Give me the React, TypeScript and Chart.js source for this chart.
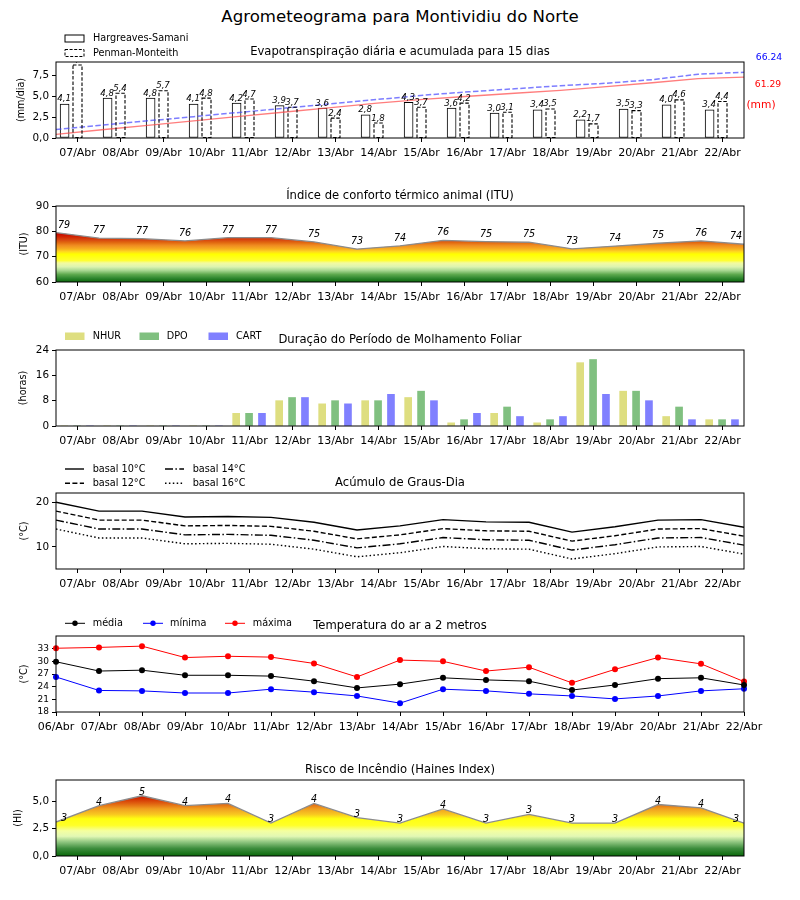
import React, { useEffect, useRef } from 'react';
import { Chart, registerables } from 'chart.js';

Chart.register(...registerables);

const FONT = "'DejaVu Sans', 'Liberation Sans', sans-serif";
Chart.defaults.font.family = FONT;

// ---------------- data ----------------
const mainTitle = 'Agrometeograma para Montividiu do Norte';
const days = ['07/Abr', '08/Abr', '09/Abr', '10/Abr', '11/Abr', '12/Abr', '13/Abr', '14/Abr', '15/Abr', '16/Abr', '17/Abr', '18/Abr', '19/Abr', '20/Abr', '21/Abr', '22/Abr'];
const tempDays = ['06/Abr', '07/Abr', '08/Abr', '09/Abr', '10/Abr', '11/Abr', '12/Abr', '13/Abr', '14/Abr', '15/Abr', '16/Abr', '17/Abr', '18/Abr', '19/Abr', '20/Abr', '21/Abr', '22/Abr'];

// Panel 1 - evapotranspiration
const etTitle = 'Evapotranspiração diária e acumulada para 15 dias';
const etSeries = ['Hargreaves-Samani', 'Penman-Monteith'];
const etHargreaves = [4.1, 4.8, 4.8, 4.1, 4.2, 3.9, 3.6, 2.8, 4.3, 3.6, 3.0, 3.4, 2.2, 3.5, 4.0, 3.4];
const etPenman = [8.8, 5.4, 5.7, 4.8, 4.7, 3.7, 2.4, 1.8, 3.7, 4.2, 3.1, 3.5, 1.7, 3.3, 4.6, 4.4];
const etCumPenman = [8.6, 13.0, 17.3, 21.5, 25.8, 30.2, 34.6, 38.8, 43.1, 46.6, 49.6, 52.7, 55.2, 58.8, 64.3, 66.24];
const etCumHargreaves = [3.7, 8.3, 12.8, 17.2, 21.7, 26.2, 30.7, 35.2, 39.0, 42.1, 45.1, 48.1, 51.7, 55.7, 59.8, 61.29];
const etTotalLabels = ['66.24', '61.29', '(mm)'];
const etYTicks = [0, 2.5, 5, 7.5];
const etYTickLabels = ['0,0', '2,5', '5,0', '7,5'];
const etYMax = 9.16;
const etCumMax = 76.6;
const etYTitle = '(mm/dia)';

// Panel 2 - ITU
const ituTitle = 'Índice de conforto térmico animal (ITU)';
const ituValues = [79.5, 77.3, 77.1, 76.2, 77.5, 77.5, 75.8, 73.0, 74.3, 76.4, 75.9, 75.7, 73.1, 74.2, 75.3, 76.2, 74.9];
const ituYTicks = [60, 70, 80, 90];
const ituYTickLabels = ['60', '70', '80', '90'];
const ituYTitle = '(ITU)';

// Panel 3 - leaf wetness
const lwTitle = 'Duração do Período de Molhamento Foliar';
const lwSeries = ['NHUR', 'DPO', 'CART'];
const lwNhur = [0, 0, 0, 0, 4, 8, 7, 8, 9, 1, 4, 1, 20, 11, 3, 2];
const lwDpo = [0, 0, 0, 0, 4, 9, 8, 8, 11, 2, 6, 2, 21, 11, 6, 2];
const lwCart = [0, 0, 0, 0, 4, 9, 7, 10, 8, 4, 3, 3, 10, 8, 2, 2];
const lwYTicks = [0, 8, 16, 24];
const lwYTickLabels = ['0', '8', '16', '24'];
const lwYTitle = '(horas)';

// Panel 4 - degree days
const gdTitle = 'Acúmulo de Graus-Dia';
const gdSeries = ['basal 10°C', 'basal 12°C', 'basal 14°C', 'basal 16°C'];
const gdBase10 = [20.0, 18.0, 18.0, 16.7, 16.8, 16.6, 15.5, 13.8, 14.7, 16.1, 15.6, 15.5, 13.3, 14.5, 16.0, 16.1, 14.4];
const gdBase12 = [18.0, 16.0, 16.0, 14.7, 14.8, 14.6, 13.5, 11.8, 12.7, 14.1, 13.6, 13.5, 11.3, 12.5, 14.0, 14.1, 12.4];
const gdBase14 = [16.0, 14.0, 14.0, 12.7, 12.8, 12.6, 11.5, 9.8, 10.7, 12.1, 11.6, 11.5, 9.3, 10.5, 12.0, 12.1, 10.4];
const gdBase16 = [14.0, 12.0, 12.0, 10.7, 10.8, 10.6, 9.5, 7.8, 8.7, 10.1, 9.6, 9.5, 7.3, 8.5, 10.0, 10.1, 8.4];
const gdYTicks = [10, 20];
const gdYTickLabels = ['10', '20'];
const gdYTitle = '(°C)';

// Panel 5 - air temperature
const tTitle = 'Temperatura do ar a 2 metros';
const tSeries = ['média', 'mínima', 'máxima'];
const tMean = [29.9, 27.7, 27.9, 26.7, 26.7, 26.5, 25.3, 23.7, 24.6, 26.1, 25.6, 25.3, 23.2, 24.4, 25.9, 26.1, 24.4];
const tMin = [26.3, 23.1, 23.0, 22.5, 22.5, 23.4, 22.7, 21.8, 20.1, 23.4, 23.0, 22.3, 21.8, 21.1, 21.8, 23.0, 23.5];
const tMax = [33.1, 33.3, 33.6, 30.9, 31.2, 31.0, 29.5, 26.3, 30.3, 30.0, 27.7, 28.6, 24.9, 28.1, 30.9, 29.4, 25.2];
const tYTicks = [18, 21, 24, 27, 30, 33];
const tYTickLabels = ['18', '21', '24', '27', '30', '33'];
const tYTitle = '(°C)';

// Panel 6 - Haines index
const hiTitle = 'Risco de Incêndio (Haines Index)';
const hiValues = [3.1, 4.6, 5.5, 4.6, 4.8, 3.0, 4.8, 3.5, 3.0, 4.3, 3.0, 3.8, 3.0, 3.0, 4.7, 4.4, 3.0];
const hiYTicks = [0, 2.5, 5];
const hiYTickLabels = ['0,0', '2,5', '5,0'];
const hiYTitle = '(HI)';

// colour ramps (value -> colour)
type Stop = [number, string];
const ituStops: Stop[] = [
  [60, '#0b680b'], [61.5, '#2f872f'], [63, '#5ea94e'], [64.5, '#a6d690'], [66, '#dcf4b0'],
  [67.5, '#f3fba0'], [68.5, '#ffff30'], [71, '#ffff00'], [72, '#ffd820'], [73, '#f8b020'],
  [74.5, '#ef8a20'], [75.5, '#e26a10'], [76.5, '#d84a10'], [78, '#d02000'], [79.5, '#bf0000'],
];
const hiStops: Stop[] = [
  [0, '#0a680a'], [0.7, '#3e8e3e'], [1.3, '#92c882'], [1.8, '#e2f8b4'], [2.3, '#f4ffa0'],
  [2.8, '#ffff28'], [3.4, '#ffff10'], [3.8, '#f8c820'], [4.3, '#f0a020'], [4.8, '#e06010'],
  [5.3, '#d02800'], [5.7, '#c00000'],
];

// ---------------- layout constants ----------------
const AREA_TOPS = [62, 206, 350, 493, 636, 780];
const AREA_H = 76;
const PAD_TOP = 36;
const PAD_BOTTOM = 26;
const CANVAS_H = PAD_TOP + AREA_H + PAD_BOTTOM;
const AREA_LEFT = 56;
const AREA_RIGHT = 744;
const TITLE_SIZE = 11.6;
const YTITLE_SIZE = 9.6;
const LEGEND_SIZE = 9.7;
const XTICK_SIZE = 11;
const YTICK_SIZE = 10.4;

function baseOptions(xTicks: number[], xLabels: string[], yMin: number, yMax: number, yTicks: number[], yLabels: string[], yTickSize = YTICK_SIZE): any {
  const grid = { display: true, drawOnChartArea: false, drawTicks: true, tickLength: 4, tickColor: '#000', tickWidth: 1, offset: false };
  return {
    animation: false,
    responsive: false,
    maintainAspectRatio: false,
    events: [],
    layout: { padding: { top: PAD_TOP, left: 0, right: 800 - AREA_RIGHT, bottom: 0 } },
    plugins: { legend: { display: false }, tooltip: { enabled: false }, title: { display: false } },
    scales: {
      x: {
        type: 'linear', min: 0, max: 16, offset: false,
        afterFit: (s: any) => { s.height = PAD_BOTTOM; },
        afterBuildTicks: (s: any) => { s.ticks = xTicks.map((v) => ({ value: v })); },
        ticks: {
          autoSkip: false, maxRotation: 0, minRotation: 0, color: '#000', padding: 5,
          font: { family: FONT, size: XTICK_SIZE },
          callback: (_v: any, i: number) => xLabels[i],
        },
        grid, border: { display: false },
      },
      y: {
        type: 'linear', position: 'left', min: yMin, max: yMax,
        afterFit: (s: any) => { s.width = AREA_LEFT; },
        afterBuildTicks: (s: any) => { s.ticks = yTicks.map((v) => ({ value: v })); },
        ticks: {
          autoSkip: false, color: '#000', padding: 3, font: { family: FONT, size: yTickSize },
          callback: (_v: any, i: number) => yLabels[i],
        },
        grid, border: { display: false },
      },
    },
  };
}

function decorPlugin(panel: number, title: string, yTitle: string, yTitleX: number, extra?: (ctx: CanvasRenderingContext2D) => void) {
  const canvasTop = AREA_TOPS[panel] - PAD_TOP;
  return {
    id: 'decor' + panel,
    afterDraw(chart: any) {
      const ctx: CanvasRenderingContext2D = chart.ctx;
      const a = chart.chartArea;
      ctx.save();
      ctx.setLineDash([]);
      ctx.strokeStyle = '#000';
      ctx.lineWidth = 1;
      ctx.strokeRect(a.left, a.top, a.right - a.left, a.bottom - a.top);
      ctx.fillStyle = '#000';
      ctx.font = `${TITLE_SIZE}px ${FONT}`;
      ctx.textAlign = 'center';
      ctx.textBaseline = 'alphabetic';
      ctx.fillText(title, (a.left + a.right) / 2, a.top - 7);
      ctx.save();
      ctx.translate(yTitleX, (a.top + a.bottom) / 2);
      ctx.rotate(-Math.PI / 2);
      ctx.font = `${YTITLE_SIZE}px ${FONT}`;
      ctx.textBaseline = 'middle';
      ctx.fillText(yTitle, 0, 0);
      ctx.restore();
      if (extra) {
        ctx.save();
        ctx.translate(0, -canvasTop);
        extra(ctx);
        ctx.restore();
      }
      ctx.restore();
    },
  };
}

function legendText(ctx: CanvasRenderingContext2D, t: string, x: number, y: number, color = '#000', size = LEGEND_SIZE, align: CanvasTextAlign = 'left') {
  ctx.save();
  ctx.fillStyle = color;
  ctx.font = `${size}px ${FONT}`;
  ctx.textAlign = align;
  ctx.textBaseline = 'middle';
  ctx.fillText(t, x, y);
  ctx.restore();
}

function gradientFill(stops: Stop[]) {
  return (c: any) => {
    const chart = c.chart;
    if (!chart.chartArea) return 'rgba(0,0,0,0)';
    const ys = chart.scales.y;
    const v0 = stops[0][0];
    const v1 = stops[stops.length - 1][0];
    const g = chart.ctx.createLinearGradient(0, ys.getPixelForValue(v0), 0, ys.getPixelForValue(v1));
    stops.forEach(([v, col]) => g.addColorStop((v - v0) / (v1 - v0), col));
    return g;
  };
}

function valueLabels(values: number[], size: number, gap: number) {
  return {
    id: 'vlabels',
    afterDatasetsDraw(chart: any) {
      const ctx: CanvasRenderingContext2D = chart.ctx;
      const a = chart.chartArea;
      const meta = chart.getDatasetMeta(0);
      ctx.save();
      ctx.beginPath();
      ctx.rect(a.left, a.top, a.right - a.left, a.bottom - a.top);
      ctx.clip();
      ctx.font = `italic ${size}px ${FONT}`;
      ctx.fillStyle = '#000';
      ctx.textAlign = 'center';
      ctx.textBaseline = 'alphabetic';
      meta.data.forEach((pt: any, i: number) => {
        let x = pt.x;
        if (i === 0) x += 8;
        if (i === values.length - 1) x -= 8;
        ctx.fillText(String(Math.floor(values[i])), x, pt.y - gap);
      });
      ctx.restore();
    },
  };
}

const dayTicks = days.map((_, i) => i + 0.5);
const tempTicks = tempDays.map((_, i) => i);

// ---------------- chart builders ----------------
function buildEt(canvas: HTMLCanvasElement) {
  const opts = baseOptions(dayTicks, days, 0, etYMax, etYTicks, etYTickLabels);
  opts.scales.y2 = { type: 'linear', display: false, min: 0, max: etCumMax };
  const barLabels = {
    id: 'barLabels',
    afterDatasetsDraw(chart: any) {
      const ctx: CanvasRenderingContext2D = chart.ctx;
      const a = chart.chartArea;
      ctx.save();
      ctx.beginPath();
      ctx.rect(a.left, a.top, a.right - a.left, a.bottom - a.top);
      ctx.clip();
      ctx.strokeStyle = '#000';
      ctx.lineWidth = 1.1;
      ctx.setLineDash([3.5, 1.8]);
      chart.getDatasetMeta(3).data.forEach((b: any) => {
        const p = b.getProps(['x', 'y', 'base', 'width'], true);
        ctx.strokeRect(p.x - p.width / 2, p.y, p.width, p.base - p.y);
      });
      ctx.setLineDash([]);
      ctx.font = `italic 8.6px ${FONT}`;
      ctx.fillStyle = '#000';
      ctx.textAlign = 'center';
      ctx.textBaseline = 'alphabetic';
      [2, 3].forEach((di) => {
        const vals = di === 2 ? etHargreaves : etPenman;
        chart.getDatasetMeta(di).data.forEach((b: any, i: number) => {
          const p = b.getProps(['x', 'y'], true);
          ctx.fillText(vals[i].toFixed(1).replace('.', ','), p.x - 0.5, p.y - 2.5);
        });
      });
      ctx.restore();
    },
  };
  const decor = decorPlugin(0, etTitle, etYTitle, 21, (ctx) => {
    ctx.strokeStyle = '#000';
    ctx.lineWidth = 1;
    ctx.fillStyle = '#fff';
    ctx.fillRect(65, 35, 19, 7);
    ctx.strokeRect(65, 35, 19, 7);
    ctx.setLineDash([3, 1.6]);
    ctx.fillRect(65, 49.5, 19, 7);
    ctx.strokeRect(65, 49.5, 19, 7);
    ctx.setLineDash([]);
    legendText(ctx, etSeries[0], 93, 38.7);
    legendText(ctx, etSeries[1], 93, 53.2);
    legendText(ctx, etTotalLabels[0], 769, 57.5, '#0000ff', 9.2, 'center');
    legendText(ctx, etTotalLabels[1], 768, 84.7, '#ff0000', 9.2, 'center');
    legendText(ctx, etTotalLabels[2], 761, 105.3, '#ff0000', 10.7, 'center');
  });
  return new Chart(canvas, {
    type: 'bar',
    data: {
      datasets: [
        { type: 'line', label: 'acum PM', data: etCumPenman.map((v, i) => ({ x: (i * 16) / 15, y: v })), yAxisID: 'y2', borderColor: 'rgba(70,70,255,0.7)', borderWidth: 1.5, borderDash: [5.5, 2.4], pointRadius: 0 },
        { type: 'line', label: 'acum HS', data: etCumHargreaves.map((v, i) => ({ x: (i * 16) / 15, y: v })), yAxisID: 'y2', borderColor: 'rgba(255,70,70,0.7)', borderWidth: 1.3, pointRadius: 0 },
        { type: 'bar', label: etSeries[0], data: etHargreaves.map((v, i) => ({ x: i + 0.2, y: v })), backgroundColor: '#fff', borderColor: '#000', borderWidth: 1, borderSkipped: false, barThickness: 9, grouped: false },
        { type: 'bar', label: etSeries[1], data: etPenman.map((v, i) => ({ x: i + 0.5, y: v })), backgroundColor: '#fff', borderWidth: 0, barThickness: 9, grouped: false },
      ],
    } as any,
    options: opts,
    plugins: [decor, barLabels],
  });
}

function buildItu(canvas: HTMLCanvasElement) {
  const opts = baseOptions(dayTicks, days, 60, 90, ituYTicks, ituYTickLabels);
  return new Chart(canvas, {
    type: 'line',
    data: {
      datasets: [{
        label: 'ITU', data: ituValues.map((v, i) => ({ x: i, y: v })), fill: 'start',
        backgroundColor: gradientFill(ituStops), borderColor: '#8c8c8c', borderWidth: 1.3, pointRadius: 0,
      }],
    } as any,
    options: opts,
    plugins: [decorPlugin(1, ituTitle, ituYTitle, 24), valueLabels(ituValues, 9.6, 5)],
  });
}

function buildLw(canvas: HTMLCanvasElement) {
  const opts = baseOptions(dayTicks, days, 0, 24, lwYTicks, lwYTickLabels);
  const colors = ['#dede80', '#80c080', '#8080ff'];
  const offs = [0.19, 0.49, 0.79];
  const series = [lwNhur, lwDpo, lwCart];
  const decor = decorPlugin(2, lwTitle, lwYTitle, 23.5, (ctx) => {
    const px = [65, 139.5, 208.5];
    const tx = [92.7, 166.7, 236];
    lwSeries.forEach((name, i) => {
      ctx.fillStyle = colors[i];
      ctx.fillRect(px[i], 332.5, 19.5, 7.5);
      legendText(ctx, name, tx[i], 336.3);
    });
  });
  return new Chart(canvas, {
    type: 'bar',
    data: {
      datasets: series.map((s, k) => ({
        label: lwSeries[k], data: s.map((v, i) => ({ x: i + offs[k], y: v })),
        backgroundColor: colors[k], borderWidth: 0, barThickness: 7, grouped: false,
      })),
    } as any,
    options: opts,
    plugins: [decor],
  });
}

function buildGd(canvas: HTMLCanvasElement) {
  const opts = baseOptions(dayTicks, days, 5.07, 22.05, gdYTicks, gdYTickLabels);
  const dashes = [[], [5, 2.4], [8, 2.4, 1.5, 2.4], [1.5, 2.4]];
  const series = [gdBase10, gdBase12, gdBase14, gdBase16];
  const decor = decorPlugin(3, gdTitle, gdYTitle, 24, (ctx) => {
    const lx = [65, 65, 165, 165];
    const tx = [92.7, 92.7, 192.7, 192.7];
    const ly = [469, 483.3, 469, 483.3];
    gdSeries.forEach((name, i) => {
      ctx.strokeStyle = '#000';
      ctx.lineWidth = 1.4;
      ctx.setLineDash(dashes[i]);
      ctx.beginPath();
      ctx.moveTo(lx[i], ly[i]);
      ctx.lineTo(lx[i] + 19, ly[i]);
      ctx.stroke();
      ctx.setLineDash([]);
      legendText(ctx, name, tx[i], ly[i]);
    });
  });
  return new Chart(canvas, {
    type: 'line',
    data: {
      datasets: series.map((s, k) => ({
        label: gdSeries[k], data: s.map((v, i) => ({ x: i, y: v })),
        borderColor: '#000', borderWidth: 1.4, borderDash: dashes[k], pointRadius: 0, fill: false,
      })),
    } as any,
    options: opts,
    plugins: [decor],
  });
}

function buildTemp(canvas: HTMLCanvasElement) {
  const opts = baseOptions(tempTicks, tempDays, 18, 36, tYTicks, tYTickLabels, 9);
  const colors = ['#000000', '#0000ff', '#ff0000'];
  const series = [tMean, tMin, tMax];
  const decor = decorPlugin(4, tTitle, tYTitle, 24, (ctx) => {
    const lx = [65, 143, 225];
    const tx = [92.7, 170, 252.7];
    const y = 623.3;
    tSeries.forEach((name, i) => {
      ctx.strokeStyle = colors[i];
      ctx.lineWidth = 1;
      ctx.beginPath();
      ctx.moveTo(lx[i], y);
      ctx.lineTo(lx[i] + 20, y);
      ctx.stroke();
      ctx.fillStyle = colors[i];
      ctx.beginPath();
      ctx.arc(lx[i] + 10, y, 2.7, 0, Math.PI * 2);
      ctx.fill();
      legendText(ctx, name, tx[i], y);
    });
  });
  return new Chart(canvas, {
    type: 'line',
    data: {
      datasets: series.map((s, k) => ({
        label: tSeries[k], data: s.map((v, i) => ({ x: i, y: v })),
        borderColor: colors[k], borderWidth: 1, pointRadius: 3, pointBackgroundColor: colors[k],
        pointBorderColor: colors[k], pointBorderWidth: 0, fill: false, clip: false,
      })),
    } as any,
    options: opts,
    plugins: [decor],
  });
}

function buildHi(canvas: HTMLCanvasElement) {
  const opts = baseOptions(dayTicks, days, 0, 6.94, hiYTicks, hiYTickLabels);
  return new Chart(canvas, {
    type: 'line',
    data: {
      datasets: [{
        label: 'HI', data: hiValues.map((v, i) => ({ x: i, y: v })), fill: 'start',
        backgroundColor: gradientFill(hiStops), borderColor: '#8c8c8c', borderWidth: 1.3, pointRadius: 0,
      }],
    } as any,
    options: opts,
    plugins: [decorPlugin(5, hiTitle, hiYTitle, 18.5), valueLabels(hiValues, 9.6, 1)],
  });
}

function Panel({ panel, build }: { panel: number; build: (c: HTMLCanvasElement) => Chart }) {
  const ref = useRef<HTMLCanvasElement>(null);
  useEffect(() => {
    const chart = build(ref.current as HTMLCanvasElement);
    return () => chart.destroy();
  }, []);
  return (
    <canvas
      ref={ref}
      width={800}
      height={CANVAS_H}
      style={{ position: 'absolute', left: 0, top: AREA_TOPS[panel] - PAD_TOP, width: 800, height: CANVAS_H }}
    />
  );
}

export default function App() {
  return (
    <div style={{ position: 'absolute', left: 0, top: 0, width: 800, height: 900, background: '#fff' }}>
      <div style={{ position: 'absolute', left: 0, top: 6.5, width: 800, textAlign: 'center', fontFamily: FONT, fontSize: 16.6, lineHeight: '20px', color: '#000' }}>
        {mainTitle}
      </div>
      <Panel panel={0} build={buildEt} />
      <Panel panel={1} build={buildItu} />
      <Panel panel={2} build={buildLw} />
      <Panel panel={3} build={buildGd} />
      <Panel panel={4} build={buildTemp} />
      <Panel panel={5} build={buildHi} />
    </div>
  );
}
